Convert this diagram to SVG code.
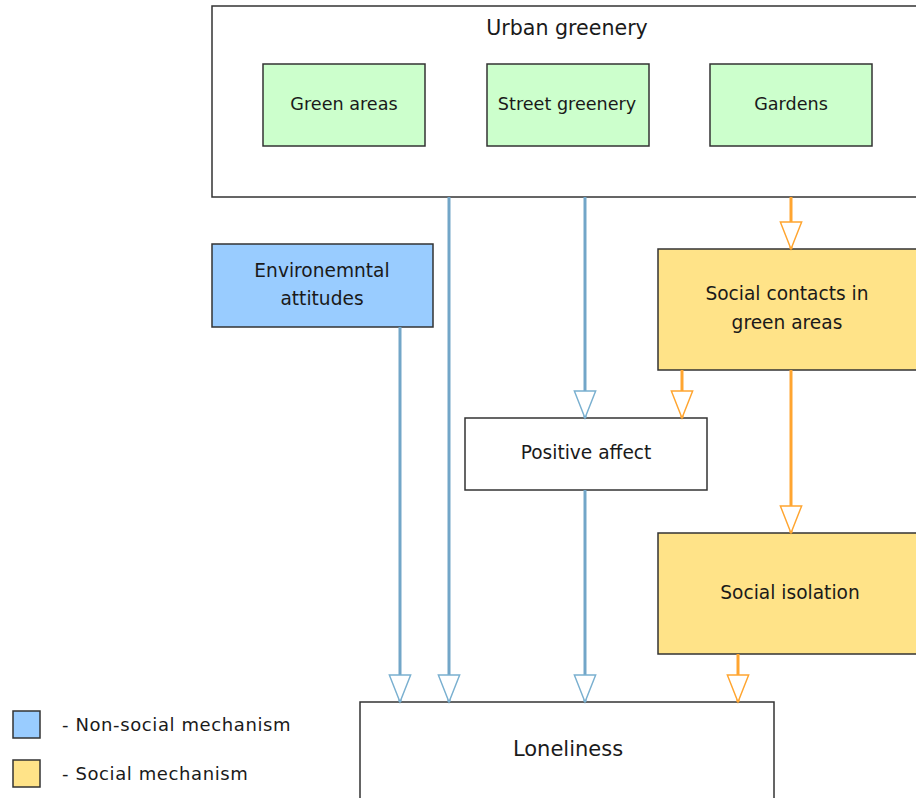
<svg xmlns="http://www.w3.org/2000/svg" width="916" height="798" viewBox="0 0 916 798">
<style>
.box{stroke:#333;stroke-width:1.5}
.w{fill:#fff}
.g{fill:#ccffcc}
.b{fill:#99ccff}
.y{fill:#ffe388}
text{font-family:"DejaVu Sans","Liberation Sans",sans-serif;fill:#1a1a1a;text-anchor:middle}
.t17{font-size:17.6px}
.t18{font-size:18.6px}
.blue{stroke:#72a6c8;stroke-width:3;fill:none}
.orange{stroke:#ffa530;stroke-width:3;fill:none}
.leg{text-anchor:start;font-size:18px;letter-spacing:0.6px}
</style>
<defs>
<marker id="ab" markerUnits="userSpaceOnUse" markerWidth="30" markerHeight="24" refX="28" refY="0" viewBox="-1 -12 31 24" orient="auto" overflow="visible">
<path d="M0,-11 L28,0 L0,11 Z" fill="#fff" stroke="#7ab0d0" stroke-width="1.5"/>
</marker>
<marker id="ao" markerUnits="userSpaceOnUse" markerWidth="30" markerHeight="24" refX="28" refY="0" viewBox="-1 -12 31 24" orient="auto" overflow="visible">
<path d="M0,-11 L28,0 L0,11 Z" fill="#fff" stroke="#ffa530" stroke-width="1.5"/>
</marker>
</defs>
<rect width="916" height="798" fill="#fff"/>
<g id="urban-greenery">
<rect class="box w" x="212" y="6" width="720" height="191"/>
<text x="567" y="35" style="font-size:20.6px">Urban greenery</text>
</g>
<g id="green-areas">
<rect class="box g" x="263" y="64" width="162" height="82"/>
<text class="t17" x="344" y="110">Green areas</text>
</g>
<g id="street-greenery">
<rect class="box g" x="487" y="64" width="162" height="82"/>
<text class="t17" x="567" y="110">Street greenery</text>
</g>
<g id="gardens">
<rect class="box g" x="710" y="64" width="162" height="82"/>
<text class="t17" x="791" y="110">Gardens</text>
</g>
<g id="environmental-attitudes">
<rect class="box b" x="212" y="244" width="221" height="83"/>
<text class="t18" x="322" y="277">Environemntal</text>
<text class="t18" x="322" y="305">attitudes</text>
</g>
<g id="social-contacts">
<rect class="box y" x="658" y="249" width="270" height="121"/>
<text class="t18" x="787" y="300">Social contacts in</text>
<text class="t18" x="787" y="329">green areas</text>
</g>
<g id="positive-affect">
<rect class="box w" x="465" y="418" width="242" height="72"/>
<text class="t18" x="586" y="459">Positive affect</text>
</g>
<g id="social-isolation">
<rect class="box y" x="658" y="533" width="270" height="121"/>
<text class="t18" x="790" y="599">Social isolation</text>
</g>
<g id="loneliness">
<rect class="box w" x="360" y="702" width="414" height="110"/>
<text x="568" y="756" style="font-size:21px">Loneliness</text>
</g>
<g id="connectors">
<line class="blue" x1="400" y1="327" x2="400" y2="702" marker-end="url(#ab)"/>
<line class="blue" x1="449" y1="197" x2="449" y2="702" marker-end="url(#ab)"/>
<line class="blue" x1="585" y1="197" x2="585" y2="418" marker-end="url(#ab)"/>
<line class="blue" x1="585" y1="490" x2="585" y2="702" marker-end="url(#ab)"/>
<line class="orange" x1="791" y1="197" x2="791" y2="249" marker-end="url(#ao)"/>
<line class="orange" x1="682" y1="370" x2="682" y2="418" marker-end="url(#ao)"/>
<line class="orange" x1="791" y1="370" x2="791" y2="533" marker-end="url(#ao)"/>
<line class="orange" x1="738" y1="654" x2="738" y2="702" marker-end="url(#ao)"/>
</g>
<g id="legend">
<rect class="box b" x="13" y="711" width="27" height="27"/>
<text class="leg" x="62" y="731">- Non-social mechanism</text>
<rect class="box y" x="13" y="760" width="27" height="27"/>
<text class="leg" x="62" y="780">- Social mechanism</text>
</g>
</svg>
